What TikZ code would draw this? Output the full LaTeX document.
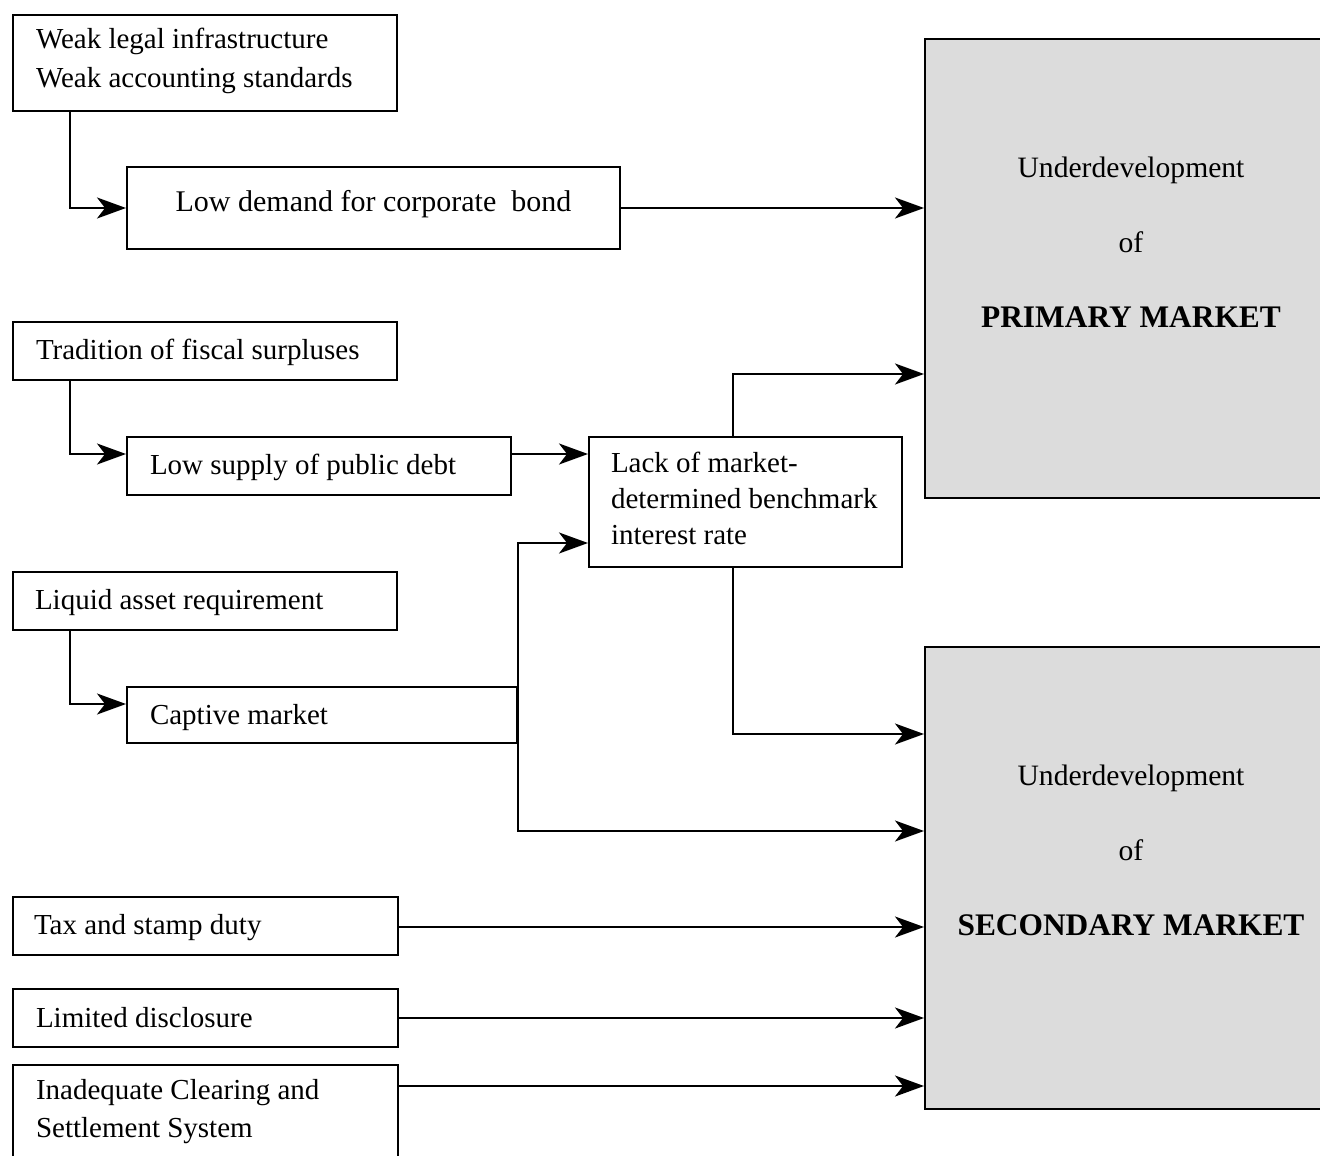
\documentclass[tikz,border=0pt]{standalone}
\usepackage{fontspec}
\setmainfont{Liberation Serif}
\usetikzlibrary{arrows.meta}
\definecolor{mktGray}{HTML}{DCDCDC}

\begin{document}
\begin{tikzpicture}[x=0.5pt, y=-0.5pt,
    factbox/.style={draw, line width=1pt, anchor=north west, inner xsep=11.5pt,
      inner ysep=0pt, align=flush left, text width=169pt, font=\fontsize{14.5}{19.25}\selectfont},
    marketbox/.style={draw, line width=1pt, fill=mktGray, anchor=north west, inner sep=0pt,
      align=flush center, text width=206pt, text height=69pt, font=\fontsize{14.8}{37.5}\selectfont},
    flow/.style={line width=1pt, -{Stealth[length=14.5pt, width=10.5pt, inset=4pt]}}]
  \useasboundingbox (0,0) rectangle (1320,1155);
  % Market boxes on the right (run off the page edge)
  \node[marketbox, text depth=160.5pt] (prim) at (924,38)
    {Underdevelopment\\of\\{\fontsize{15.7}{37.5}\selectfont\bfseries PRIMARY MARKET}};
  \node[marketbox, text depth=162pt] (sec) at (924,646)
    {Underdevelopment\\of\\{\fontsize{15.7}{37.5}\selectfont\bfseries SECONDARY MARKET}};
  % Causes, top to bottom
  \node[factbox, text height=17pt, text depth=31pt] (weak) at (12,14)
    {Weak legal infrastructure\\Weak accounting standards};
  \node[factbox, inner xsep=0pt, align=flush center, text width=246.5pt, text height=22.5pt,
    text depth=18.5pt, font=\fontsize{15}{18}\selectfont] (demand) at (126,166)
    {Low demand for corporate \ bond};
  \node[factbox, text height=18.5pt, text depth=10.5pt] (fiscal) at (12,321)
    {Tradition of fiscal surpluses};
  \node[factbox, text height=18.5pt, text depth=10.5pt] (supply) at (126,436)
    {Low supply of public debt};
  \node[factbox, inner xsep=11pt, text width=134.5pt, text height=17.5pt, text depth=47.5pt,
    font=\fontsize{14.5}{18}\selectfont] (bench) at (588,436)
    {Lack of market-\\determined benchmark\\interest rate};
  \node[factbox, inner xsep=11pt, text width=170pt, text height=18.5pt, text depth=10.5pt] (liquid) at (12,571)
    {Liquid asset requirement};
  \node[factbox, text width=172pt, text height=18.5pt, text depth=9.5pt] (captive) at (126,686)
    {Captive market};
  \node[factbox, inner xsep=10.5pt, text width=171.5pt, text height=18.5pt, text depth=10.5pt] (tax) at (12,896)
    {Tax and stamp duty};
  \node[factbox, inner xsep=11.5pt, text width=169.5pt, text height=19pt, text depth=10pt] (disc) at (12,988)
    {Limited disclosure};
  \node[factbox, inner xsep=11.5pt, text width=169.5pt, text height=17pt, text depth=36pt,
    font=\fontsize{14.5}{19}\selectfont] (clear) at (12,1064)
    {Inadequate Clearing and\\Settlement System};
  % Connectors
  \draw[flow] (weak.south -| 70,0) |- (demand.west);
  \draw[flow] (demand.east) -- (demand.east -| prim.west);
  \draw[flow] (fiscal.south -| 70,0) |- (supply.west |- 0,454);
  \draw[flow] (supply.east |- 0,454) -- (bench.west |- 0,454);
  \draw[flow] (bench.north -| 733,0) |- (prim.west |- 0,374);
  \draw[flow] (bench.south -| 733,0) |- (sec.west |- 0,734);
  \draw[flow] (liquid.south -| 70,0) |- (captive.west |- 0,704);
  \draw[flow] (captive.east) |- (bench.west |- 0,543);
  \draw[flow] (captive.east) |- (sec.west |- 0,831);
  \draw[flow] (tax.east |- 0,927) -- (sec.west |- 0,927);
  \draw[flow] (disc.east) -- (disc.east -| sec.west);
  \draw[flow] (clear.east |- 0,1086) -- (sec.west |- 0,1086);
\end{tikzpicture}
\end{document}
